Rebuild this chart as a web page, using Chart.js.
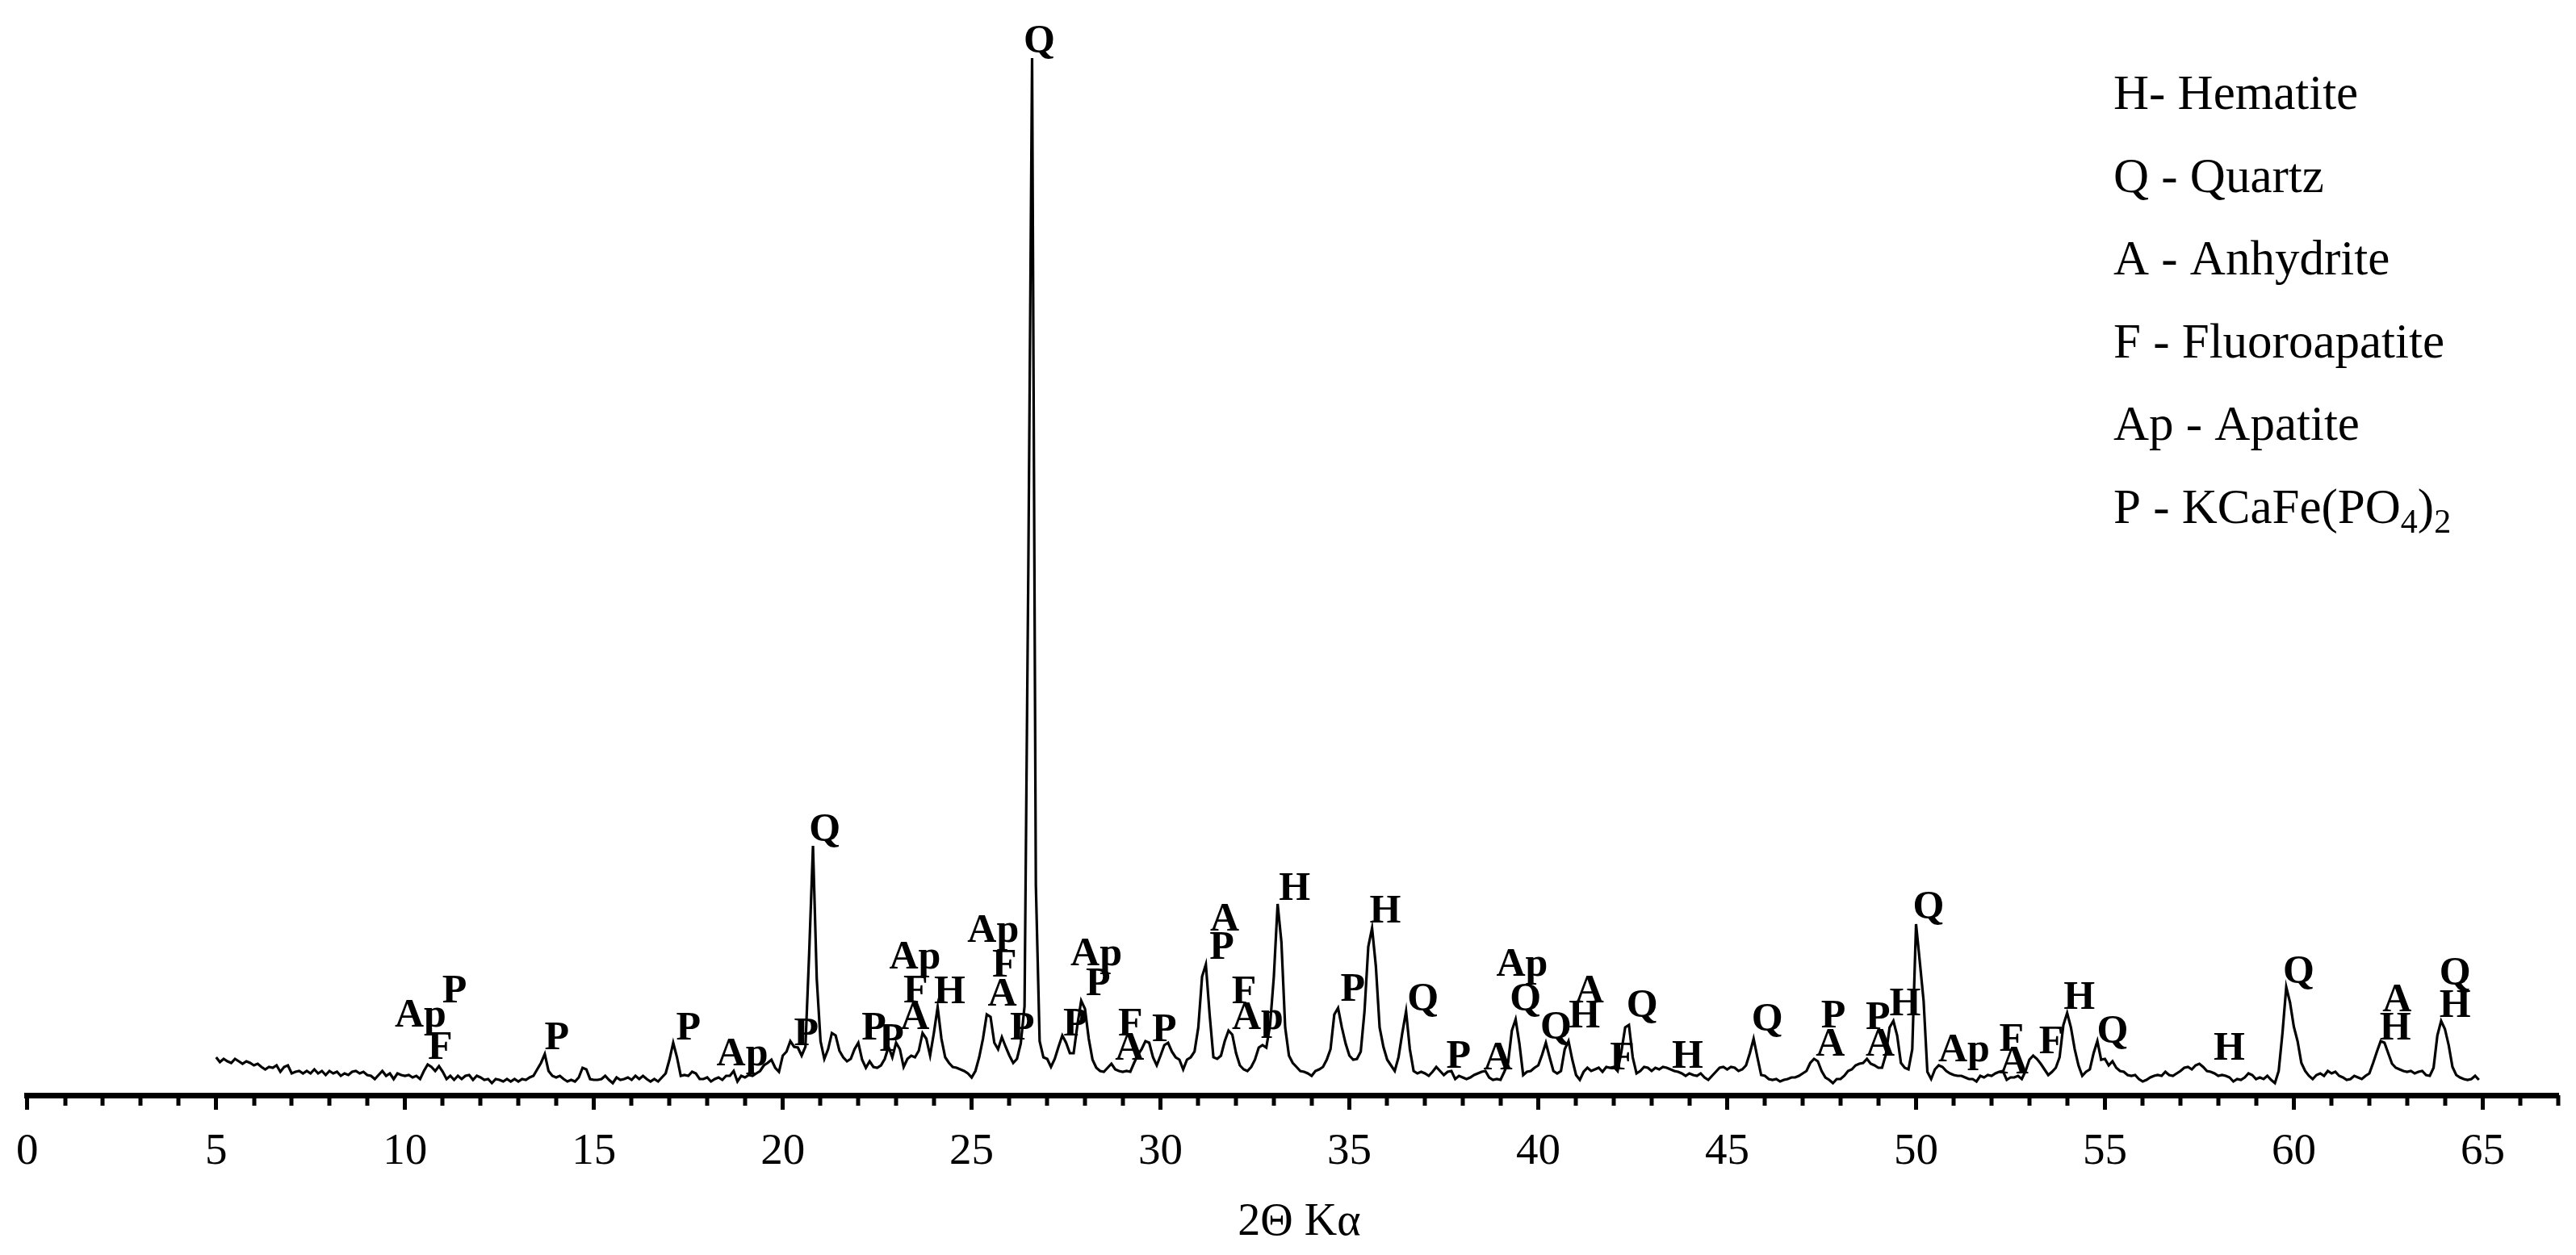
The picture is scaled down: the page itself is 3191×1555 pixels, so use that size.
<!DOCTYPE html>
<html>
<head>
<meta charset="utf-8">
<script src="https://cdn.jsdelivr.net/npm/chart.js@4/dist/chart.umd.min.js"></script>
<style>
html,body{margin:0;padding:0;background:#fff;}
canvas{display:block;}
</style>
</head>
<body>
<canvas id="c" width="3191" height="1555" style="width:3191px;height:1555px"></canvas>
<script>
// ---- Data (2θ sampling grid and measured intensities, arbitrary units) ----
const twoThetaStart = 5.0;
const twoThetaStep = 0.1;

const intensity05to15 = [
  47,41,45,42,40,45,42,39,42,40,
  37,39,35,32,35,34,37,29,35,37,
  27,29,30,27,30,27,32,27,30,25,
  30,27,29,24,27,25,29,30,27,29,
  25,24,20,25,30,24,27,20,27,25,
  24,25,22,24,20,30,38,35,30,36,
  29,20,24,19,24,20,24,25,19,24,
  22,19,20,15,20,19,17,20,17,20,
  17,20,19,22,24,32,40,51,30,24,
  22,24,20,17,19,17,22,34,32,20
];
const intensity15to25 = [
  19,19,20,24,19,15,22,19,20,22,
  19,24,20,24,20,17,20,17,22,27,
  44,65,47,24,25,24,29,27,20,20,
  22,17,20,22,19,24,24,30,17,24,
  22,25,24,27,30,37,40,44,34,29,
  49,54,67,60,59,49,60,177,309,144,
  67,45,57,77,74,55,47,42,45,57,
  65,44,34,42,35,34,37,45,60,47,
  65,57,35,45,49,47,55,77,70,49,
  77,109,70,47,40,35,34,32,30,27
];
const intensity25to35 = [
  22,30,47,70,100,97,65,57,72,60,
  49,40,45,64,110,650,1285,260,67,47,
  45,35,45,60,74,65,52,52,87,117,
  107,70,44,34,30,29,34,39,32,30,
  29,30,29,40,50,57,67,65,47,37,
  49,62,65,54,47,44,32,44,47,54,
  84,147,162,100,47,45,49,67,80,75,
  52,37,32,30,35,44,59,62,59,87,
  147,237,190,84,49,40,35,30,29,27,
  24,30,32,35,44,57,100,108,84,64
];
const intensity35to45 = [
  49,44,45,54,104,184,207,160,84,60,
  44,37,30,47,77,104,57,30,27,29,
  27,24,29,35,30,25,29,30,20,24,
  22,20,22,25,27,29,30,22,19,20,
  19,29,40,80,94,64,25,29,30,34,
  37,50,65,47,30,27,30,57,67,44,
  25,19,29,34,30,32,34,29,35,34,
  35,30,54,84,87,47,27,30,35,34,
  30,34,32,35,34,32,30,29,27,24,
  27,25,24,27,22,19,24,29,34,35
];
const intensity45to55 = [
  32,35,34,30,32,37,52,70,47,25,
  24,20,19,20,17,19,20,22,22,24,
  27,30,40,45,42,30,22,19,15,20,
  20,24,30,32,37,39,40,45,39,37,
  34,34,50,84,92,74,40,34,32,57,
  212,165,117,29,20,32,37,35,30,27,
  25,24,24,22,20,20,17,24,22,25,
  24,27,29,30,19,22,22,24,20,30,
  44,49,45,39,32,25,29,34,47,87,
  102,84,57,37,24,29,32,52,67,44
];
const intensity55to65 = [
  45,37,42,34,30,29,25,24,25,20,
  17,19,22,24,25,24,29,25,24,27,
  30,34,35,32,37,39,35,30,29,27,
  24,25,24,22,17,20,19,22,27,25,
  20,22,20,24,19,15,30,77,134,115,
  85,67,40,30,24,20,25,27,24,30,
  27,29,24,22,19,20,24,22,20,24,
  27,40,54,67,65,52,39,34,32,30,
  29,30,27,29,30,25,24,34,74,92,
  82,62,35,25,22,20,19,20,24,19
];

// x-axis tick values
const xAxisMin = 0, xAxisMax = 67, xMajorStep = 5, xMinorStep = 1;

// phase labels: text, 2θ position, intensity level of label baseline
const peakLabels = ['Ap','P','F','P','P','Ap','P','Q','P','P','A','F','Ap','H','Ap','F','A','P','Q','P','Ap','P','F','A','P','A','P','F','Ap','H','P','H','Q','P','A','Ap','Q','Q','A','H','Q','F','H','Q','P','A','P','A','H','Q','Ap','F','A','F','H','Q','H','Q','A','H','Q','H'];
const peakAngles = [10.41,11.31,10.93,14.02,17.50,18.93,20.62,21.11,22.41,22.88,23.50,23.52,23.50,24.42,25.57,25.87,25.81,26.34,26.79,27.75,28.30,28.35,29.20,29.18,30.10,31.70,31.62,32.21,32.57,33.55,35.09,35.95,36.95,37.89,38.93,39.57,39.66,40.47,41.35,41.22,42.75,42.22,43.95,46.06,47.81,47.73,48.99,49.05,49.71,50.33,51.27,52.53,52.59,53.58,54.32,55.20,58.29,60.13,62.73,62.69,64.27,64.27];
const peakLevels = [85,115,45,57,69,37,62,315,69,55,82,115,157,114,190,147,111,69,1292,74,161,124,74,44,67,204,169,114,82,242,117,214,105,34,32,148,105,70,115,84,97,32,34,80,84,49,82,49,99,219,42,55,27,52,107,65,44,139,104,69,137,97];

// legend of phases ("_n" marks a subscript)
const legendEntries = ['H- Hematite','Q - Quartz','A - Anhydrite','F - Fluoroapatite','Ap - Apatite','P - KCaFe(PO_4)_2'];
const axisTitle = '2\u0398 K\u03b1';

// ---- build dataset ----
const intensities = [].concat(intensity05to15, intensity15to25, intensity25to35, intensity35to45, intensity45to55, intensity55to65);
const points = intensities.map((v, i) => ({ x: +(twoThetaStart + i * twoThetaStep).toFixed(2), y: v }));

const FONT = "'Liberation Serif', 'Times New Roman', serif";

const decorPlugin = {
  id: 'decor',
  afterDraw(chart) {
    const ctx = chart.ctx;
    const xs = chart.scales.x, ys = chart.scales.y;
    const area = chart.chartArea;
    const bottom = area.bottom;
    ctx.save();
    // minor ticks
    ctx.strokeStyle = '#000';
    ctx.lineWidth = 5;
    for (let v = xAxisMin; v <= xAxisMax; v += xMinorStep) {
      if (v % xMajorStep === 0) continue;
      const px = Math.round(xs.getPixelForValue(v));
      ctx.beginPath();
      ctx.moveTo(px, bottom);
      ctx.lineTo(px, bottom + 13);
      ctx.stroke();
    }
    // axis title centred under the axis
    ctx.fillStyle = '#000';
    ctx.font = '56px ' + FONT;
    ctx.textAlign = 'center';
    ctx.textBaseline = 'alphabetic';
    ctx.fillText(axisTitle, (area.left + area.right) / 2 + 8, 1530);
    // peak labels
    ctx.font = 'bold 50px ' + FONT;
    for (let i = 0; i < peakLabels.length; i++) {
      ctx.fillText(peakLabels[i], xs.getPixelForValue(peakAngles[i]), ys.getPixelForValue(peakLevels[i]));
    }
    // legend
    ctx.textAlign = 'left';
    const lx = 2618, ly0 = 135, lstep = 102.5;
    legendEntries.forEach((entry, i) => {
      let x = lx;
      const y = ly0 + i * lstep;
      const parts = entry.split(/(_\d)/).filter(s => s.length);
      parts.forEach(p => {
        if (p[0] === '_') {
          ctx.font = '42px ' + FONT;
          ctx.fillText(p.slice(1), x, y + 12);
          x += ctx.measureText(p.slice(1)).width;
        } else {
          ctx.font = '61px ' + FONT;
          ctx.fillText(p, x, y);
          x += ctx.measureText(p).width;
        }
      });
    });
    ctx.restore();
  }
};

new Chart(document.getElementById('c'), {
  type: 'line',
  data: {
    datasets: [{
      data: points,
      borderColor: '#000',
      borderWidth: 3.2,
      pointRadius: 0,
      tension: 0,
      fill: false
    }]
  },
  options: {
    responsive: false,
    animation: false,
    devicePixelRatio: 1,
    layout: { padding: { left: 31, right: 22, top: 0, bottom: 0 } },
    plugins: { legend: { display: false }, tooltip: { enabled: false }, title: { display: false } },
    scales: {
      x: {
        type: 'linear',
        min: xAxisMin,
        max: xAxisMax,
        ticks: {
          stepSize: xMajorStep,
          includeBounds: false,
          autoSkip: false,
          maxRotation: 0,
          color: '#000',
          padding: 20,
          font: { family: FONT, size: 55 }
        },
        grid: { drawOnChartArea: false, drawTicks: true, tickLength: 18, tickWidth: 5, tickColor: '#000' },
        border: { display: true, width: 7, color: '#000' },
        afterFit(scale) { scale.height = 198; }
      },
      y: { display: false, min: 0, max: 1357 }
    }
  },
  plugins: [decorPlugin]
});
</script>
</body>
</html>
